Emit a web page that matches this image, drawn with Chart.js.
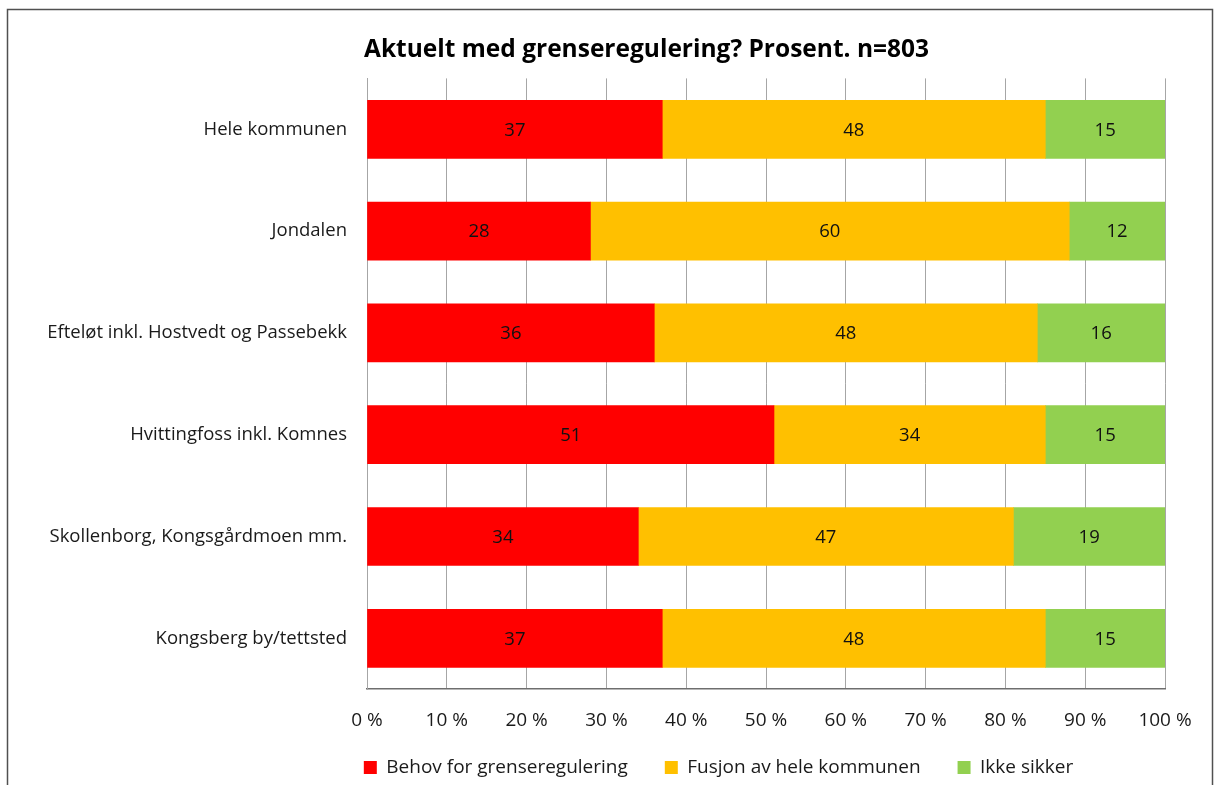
<!DOCTYPE html>
<html><head><meta charset="utf-8">
<script src="https://cdn.jsdelivr.net/npm/chart.js@4.4.1/dist/chart.umd.min.js"></script>
<style>html,body{margin:0;padding:0;background:#fff;overflow:hidden}#wrap{width:1219px;height:785px;position:relative}</style>
</head><body><div id="wrap"><canvas id="c" width="1219" height="785"></canvas></div>
<script>
const categories = ["Hele kommunen","Jondalen","Efteløt inkl. Hostvedt og Passebekk","Hvittingfoss inkl. Komnes","Skollenborg, Kongsgårdmoen mm.","Kongsberg by/tettsted"];
const behov = [37,28,36,51,34,37];
const fusjon = [48,60,48,34,47,48];
const ikkeSikker = [15,12,16,15,19,15];
const seriesNames = ["Behov for grenseregulering","Fusjon av hele kommunen","Ikke sikker"];
const xTickStep = 10;
const xMax = 100;
const titleText = "Aktuelt med grenseregulering? Prosent. n=803";

const FONT = "'Open Sans', Lato, sans-serif";

const frame = {
  id:'frame',
  beforeDraw(chart){
    const ctx = chart.ctx;
    ctx.save();
    ctx.fillStyle='#fff';ctx.fillRect(0,0,chart.width,chart.height);
    ctx.strokeStyle='#505050';ctx.lineWidth=1.5;
    ctx.strokeRect(7.5,9.5,1205,820);
    ctx.restore();
  }
};
const shifter = {
  id:'shifter',
  afterLayout(chart){
    const t = chart.titleBlock; if(t){t.left+=60;t.right+=60;}
    const l = chart.legend; if(l){l.left+=132;l.right+=132;l.top-=31;l.bottom-=31;}
  }
};
const valueLabels = {
  id:'valueLabels',
  afterDatasetsDraw(chart){
    const ctx = chart.ctx;
    ctx.save();
    ctx.font = "18.5px " + FONT;
    ctx.fillStyle = '#111';
    ctx.textAlign='center';ctx.textBaseline='middle';
    chart.data.datasets.forEach((ds,i)=>{
      chart.getDatasetMeta(i).data.forEach((bar,j)=>{
        const p = bar.getProps(['x','y','base'],true);
        ctx.fillText(String(ds.data[j]), (p.x+p.base)/2, p.y+1);
      });
    });
    ctx.restore();
  }
};

new Chart(document.getElementById('c'),{
  type:'bar',
  data:{
    labels:categories,
    datasets:[
      {label:seriesNames[0],data:behov,backgroundColor:'#FF0000'},
      {label:seriesNames[1],data:fusjon,backgroundColor:'#FFC000'},
      {label:seriesNames[2],data:ikkeSikker,backgroundColor:'#92D050'}
    ]
  },
  options:{
    indexAxis:'y',
    responsive:false,
    animation:false,
    events:[],
    datasets:{bar:{barThickness:58,borderWidth:0}},
    layout:{padding:{left:8,right:54,top:0,bottom:-33}},
    scales:{
      x:{
        stacked:true,min:0,max:xMax,
        grid:{color:'#a6a6a6',lineWidth:1,drawTicks:false},
        border:{color:'#6e6e6e',width:1.5},
        ticks:{stepSize:xTickStep,autoSkip:false,maxRotation:0,padding:20,color:'#1a1a1a',font:{family:FONT,size:19},callback:v=>v+' %'}
      },
      y:{
        stacked:true,
        afterFit(s){s.width=359;},
        grid:{display:false,drawTicks:false},
        border:{color:'#a6a6a6',width:1},
        ticks:{padding:20,color:'#1a1a1a',font:{family:FONT,size:18.5}}
      }
    },
    plugins:{
      title:{display:true,text:titleText,color:'#000',font:{family:FONT,size:24.5,weight:'bold'},padding:{top:35,bottom:14}},
      legend:{position:'bottom',labels:{boxWidth:13,boxHeight:13,padding:37,color:'#1a1a1a',font:{family:FONT,size:19}}},
      tooltip:{enabled:false}
    }
  },
  plugins:[frame,shifter,valueLabels]
});
</script></body></html>
